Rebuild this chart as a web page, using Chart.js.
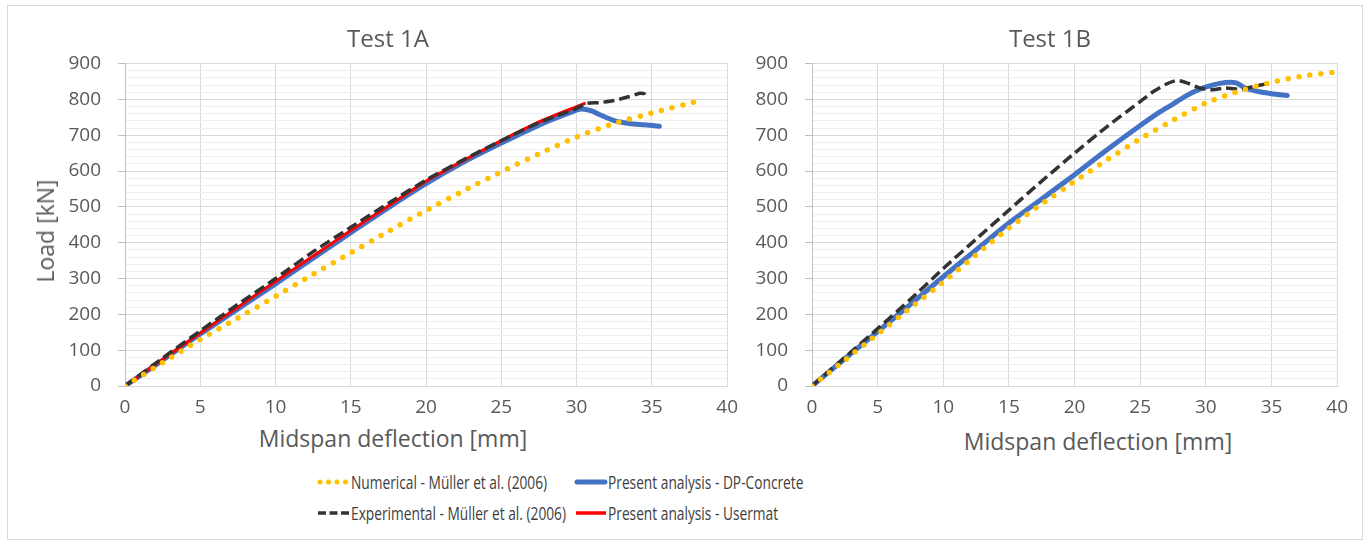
<!DOCTYPE html>
<html>
<head>
<meta charset="utf-8">
<script src="https://cdn.jsdelivr.net/npm/chart.js@4.4.0/dist/chart.umd.min.js"></script>
<style>
  body { margin: 0; background: #fff; font-family: "Open Sans", sans-serif; color: #595959; }
  #page { position: relative; width: 1370px; height: 545px; overflow: hidden; }
  #frame { position: absolute; left: 7px; top: 5px; width: 1354px; height: 533px; border: 1px solid #d9d9d9; }
  .box { position: absolute; }
  .txt { position: absolute; white-space: nowrap; transform: translate(-50%, -50%); }
  .ttl { font-size: 24px; }
  .axt { font-size: 23px; }
  .leg { position: absolute; white-space: nowrap; font-size: 17.5px; color: #404040;
         transform-origin: left center; transform: translateY(-50%) scaleX(0.785); }
  .legk { position: absolute; }
</style>
</head>
<body>
<div id="page">
  <div id="frame"></div>
  <div class="box" style="left:0;top:0;width:748px;height:420px"><canvas id="chartA"></canvas></div>
  <div class="box" style="left:700px;top:0;width:658px;height:420px"><canvas id="chartB"></canvas></div>

  <div class="txt ttl" style="left:388px;top:37px">Test 1A</div>
  <div class="txt ttl" style="left:1050px;top:37px">Test 1B</div>
  <div class="txt axt" style="left:393px;top:438px">Midspan deflection [mm]</div>
  <div class="txt axt" style="left:1098px;top:441px">Midspan deflection [mm]</div>
  <div class="txt axt" style="left:45px;top:231px;transform:translate(-50%,-50%) rotate(-90deg)">Load [kN]</div>

  <svg class="legk" style="left:316px;top:476px" width="34" height="12"><line x1="4" y1="6" x2="30" y2="6" stroke="#FFC000" stroke-width="5" stroke-linecap="round" stroke-dasharray="0 8.5"/></svg>
  <div class="leg" style="left:351px;top:482px">Numerical - Müller et al. (2006)</div>
  <svg class="legk" style="left:316px;top:507px" width="34" height="12"><line x1="2" y1="6" x2="33" y2="6" stroke="#333333" stroke-width="3.5" stroke-dasharray="8 3.5"/></svg>
  <div class="leg" style="left:351px;top:513px">Experimental - Müller et al. (2006)</div>
  <svg class="legk" style="left:574px;top:476px" width="34" height="12"><line x1="3" y1="6" x2="31" y2="6" stroke="#4472C4" stroke-width="5" stroke-linecap="round"/></svg>
  <div class="leg" style="left:608px;top:482px">Present analysis - DP-Concrete</div>
  <svg class="legk" style="left:574px;top:507px" width="34" height="12"><line x1="2" y1="6" x2="32" y2="6" stroke="#FF0000" stroke-width="3.5"/></svg>
  <div class="leg" style="left:608px;top:513px">Present analysis - Usermat</div>
</div>

<script>
// Test 1A
const numX1A = [0, 2.5, 5, 7.5, 10, 12.5, 15, 17.5, 20, 22.5, 25, 27.5, 30, 32.5, 35, 38];
const numY1A = [0, 65, 130, 190, 250, 312, 372, 432, 490, 545, 598, 648, 695, 733, 762, 795];
const expX1A = [0, 2.5, 5, 7.5, 10, 12.5, 15, 17.5, 20, 22.5, 25, 27.5, 30, 30.7, 31.5, 32.5, 33.5, 34.2, 34.5, 34.6];
const expY1A = [0, 78, 154, 228, 300, 375, 443, 510, 575, 632, 685, 735, 775, 789, 791, 797, 808, 817, 815, 805];
const dpX1A = [0, 2.5, 5, 7.5, 10, 12.5, 15, 17.5, 20, 22.5, 25, 27.5, 29.5, 30.3, 31, 31.5, 32.5, 33.5, 34.5, 35.5];
const dpY1A = [0, 72, 145, 215, 285, 357, 428, 498, 565, 625, 678, 728, 762, 773, 768, 758, 741, 733, 729, 725];
const usrX1A = [0, 2.5, 5, 7.5, 10, 12.5, 15, 17.5, 20, 22.5, 25, 27.5, 30, 30.6];
const usrY1A = [0, 74, 148, 220, 292, 363, 434, 503, 572, 630, 685, 737, 780, 790];

// Test 1B
const numX1B = [0, 2.5, 5, 7.5, 10, 12.5, 15, 17.5, 20, 22.5, 25, 27.5, 30, 32.5, 35, 37.5, 40];
const numY1B = [0, 72, 145, 218, 290, 366, 441, 508, 571, 632, 690, 742, 790, 823, 848, 866, 877];
const expX1B = [0, 2.5, 5, 7.5, 10, 12.5, 15, 17.5, 20, 22.5, 25, 26, 27, 27.8, 28.5, 29.5, 30.5, 31.5, 32.8, 33.5, 34.3, 34.8];
const expY1B = [0, 80, 160, 242, 328, 410, 491, 572, 650, 725, 794, 822, 843, 853, 847, 832, 827, 832, 828, 835, 841, 846];
const dpX1B = [0, 2.5, 5, 7.5, 10, 12.5, 15, 17.5, 20, 22.5, 25, 26.5, 27.5, 28.5, 29.5, 30.5, 31.5, 32.3, 33, 34, 35, 36.2];
const dpY1B = [0, 76, 152, 228, 305, 380, 455, 522, 590, 660, 727, 765, 787, 810, 828, 840, 847, 846, 832, 822, 816, 811];

const xTicks = [0, 5, 10, 15, 20, 25, 30, 35, 40];
const yTicks = [0, 100, 200, 300, 400, 500, 600, 700, 800, 900];

function pts(xs, ys) {
    return xs.map((x, i) => ({ x: x, y: ys[i] }));
}

const FONT = "'Open Sans', sans-serif";

function numSet(data) {
    return { label: 'Numerical - Müller et al. (2006)', data: data, borderColor: '#FFC000',
             borderWidth: 5.5, borderDash: [0, 11], borderCapStyle: 'round', tension: 0.2 };
}
function expSet(data) {
    return { label: 'Experimental - Müller et al. (2006)', data: data, borderColor: '#333333',
             borderWidth: 3.5, borderDash: [11, 5], tension: 0.2 };
}
function dpSet(data) {
    return { label: 'Present analysis - DP-Concrete', data: data, borderColor: '#4472C4',
             borderWidth: 5, borderCapStyle: 'round', borderJoinStyle: 'round', tension: 0.3 };
}
function usrSet(data) {
    return { label: 'Present analysis - Usermat', data: data, borderColor: '#FF0000',
             borderWidth: 3, tension: 0.2 };
}

function makeChart(id, yWidth, datasets) {
    const ctx = document.getElementById(id).getContext('2d');
    return new Chart(ctx, {
        type: 'scatter',
        data: { datasets: datasets },
        options: {
            responsive: true,
            maintainAspectRatio: false,
            animation: false,
            showLine: true,
            elements: { point: { radius: 0, hoverRadius: 0 } },
            layout: { padding: { left: 0, right: 20, top: 63.6, bottom: 4 } },
            plugins: { legend: { display: false }, tooltip: { enabled: false } },
            scales: {
                x: {
                    type: 'linear', min: 0, max: 40,
                    afterFit: s => { s.height = 30; },
                    afterBuildTicks: s => { s.ticks = xTicks.map(v => ({ value: v })); },
                    ticks: { padding: 10, color: '#595959', font: { family: FONT, size: 19 }, maxRotation: 0 },
                    grid: { color: '#d9d9d9', drawTicks: false },
                    border: { color: '#d9d9d9' }
                },
                y: {
                    type: 'linear', min: 0, max: 900,
                    afterFit: s => { s.width = yWidth; },
                    ticks: {
                        stepSize: 20, autoSkip: false, padding: 17, color: '#595959',
                        font: { family: FONT, size: 19 },
                        callback: v => yTicks.includes(v) ? v : ''
                    },
                    grid: {
                        color: c => (c.tick && c.tick.value % 100 === 0) ? '#d9d9d9' : '#eeeeee',
                        tickColor: c => (c.tick && c.tick.value % 100 === 0) ? '#bfbfbf' : 'rgba(0,0,0,0)',
                        tickLength: 7
                    },
                    border: { color: '#bfbfbf' }
                }
            }
        }
    });
}

// first dataset is drawn on top
makeChart('chartA', 125, [
    numSet(pts(numX1A, numY1A)),
    expSet(pts(expX1A, expY1A)),
    usrSet(pts(usrX1A, usrY1A)),
    dpSet(pts(dpX1A, dpY1A))
]);

makeChart('chartB', 112, [
    numSet(pts(numX1B, numY1B)),
    expSet(pts(expX1B, expY1B)),
    dpSet(pts(dpX1B, dpY1B))
]);
</script>
</body>
</html>
